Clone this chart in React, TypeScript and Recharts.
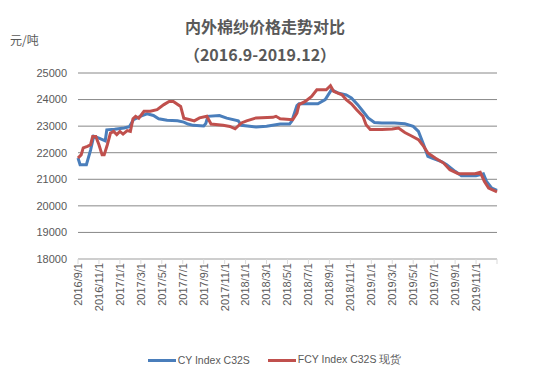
import React from 'react';
import { LineChart, Line, XAxis, YAxis, CartesianGrid } from 'recharts';

// x = months since 2016/9/1
const cyMonth = [0, 0.2, 0.8, 1.2, 1.5, 2.0, 2.6, 2.75, 3.5, 4.4, 4.9, 5.3, 6.0, 6.6, 7.2, 7.7, 8.5, 9.5, 10.1, 10.5, 11.0, 12.0, 12.2, 12.4, 13.5, 14.2, 15.3, 15.6, 17, 18, 19.3, 20.2, 20.4, 20.9, 21.1, 22.9, 23.6, 24.1, 24.2, 24.8, 25.6, 26.1, 26.7, 27.2, 27.7, 28.3, 29, 30.2, 31.2, 32, 32.5, 33, 33.4, 33.8, 34.7, 35.2, 36, 36.6, 38, 38.7, 39, 39.5, 40];
const cyValue = [21800, 21550, 21550, 22100, 22620, 22550, 22450, 22860, 22880, 22930, 22980, 23240, 23380, 23460, 23400, 23280, 23220, 23200, 23150, 23080, 23030, 23010, 23100, 23370, 23400, 23300, 23200, 23030, 22970, 23000, 23080, 23080, 23180, 23770, 23840, 23840, 24000, 24310, 24370, 24250, 24180, 24060, 23810, 23560, 23310, 23140, 23120, 23120, 23090, 22990, 22800, 22300, 21860, 21800, 21670, 21550, 21300, 21130, 21130, 21210, 20920, 20670, 20580];

const fcyMonth = [0, 0.3, 0.5, 0.9, 1.2, 1.4, 1.7, 2.0, 2.3, 2.5, 2.8, 3.1, 3.4, 3.7, 4.0, 4.3, 4.7, 5.0, 5.25, 5.5, 5.8, 6.3, 6.9, 7.55, 8.2, 8.7, 9.1, 9.8, 10.1, 10.7, 11.1, 11.6, 12.3, 12.7, 13.85, 14.5, 15, 15.6, 16.1, 17, 18.6, 18.9, 19.3, 20.5, 20.9, 21.1, 21.7, 22.3, 22.8, 23.7, 24.1, 24.4, 25.2, 25.6, 26.1, 26.6, 27.2, 27.5, 27.9, 29, 30, 30.6, 31.2, 31.8, 32.5, 33, 33.4, 34.1, 34.9, 35.5, 36.3, 37.9, 38.4, 38.8, 39.2, 40];
const fcyValue = [21800, 21920, 22180, 22240, 22300, 22610, 22610, 22300, 21920, 21920, 22300, 22740, 22800, 22680, 22800, 22700, 22830, 22800, 23280, 23370, 23300, 23560, 23560, 23620, 23810, 23930, 23930, 23740, 23300, 23240, 23200, 23310, 23370, 23080, 23030, 22990, 22900, 23120, 23200, 23310, 23330, 23370, 23280, 23240, 23490, 23810, 23930, 24120, 24370, 24370, 24520, 24310, 24180, 24000, 23840, 23620, 23370, 23050, 22870, 22870, 22890, 22930, 22760, 22640, 22490, 22240, 21990, 21800, 21610, 21360, 21210, 21210, 21260, 20920, 20670, 20530];

const xLabels = ['2016/9/1', '2016/11/1', '2017/1/1', '2017/3/1', '2017/5/1', '2017/7/1', '2017/9/1', '2017/11/1', '2018/1/1', '2018/3/1', '2018/5/1', '2018/7/1', '2018/9/1', '2018/11/1', '2019/1/1', '2019/3/1', '2019/5/1', '2019/7/1', '2019/9/1', '2019/11/1'];
const yTicks = [18000, 19000, 20000, 21000, 22000, 23000, 24000, 25000];

const series = [
  { name: 'CY Index C32S', color: '#4a7ebb', months: cyMonth, values: cyValue },
  { name: 'FCY Index C32S 现货', color: '#c0504d', months: fcyMonth, values: fcyValue },
];

const xTicks = [...xLabels.map((_, i) => i * 2), xLabels.length * 2];
const FONT = '"Liberation Sans", Arial, sans-serif';
const GREY = '#595959';

const XTick = (props: any) => {
  const { x, y, payload } = props;
  const label = xLabels[payload.value / 2] || '';
  return (
    <g transform={`translate(${x},${y - 1})`}>
      <text transform="rotate(-90)" textAnchor="end" dy="0.35em" fontSize={11} fill={GREY} fontFamily={FONT}>
        {label}
      </text>
    </g>
  );
};

export default function App() {
  return (
    <div style={{ position: 'absolute', left: 0, top: 0, width: 545, height: 374, background: '#fff' }}>
      <div style={{ position: 'absolute', left: 0, width: 530, top: 15, textAlign: 'center', fontFamily: '"Noto Sans CJK SC", sans-serif', fontWeight: 'bold', fontSize: 16, color: GREY, lineHeight: '22px' }}>
        内外棉纱价格走势对比
      </div>
      <div style={{ position: 'absolute', left: 0, width: 520, top: 43, textAlign: 'center', fontFamily: '"Noto Sans CJK SC", sans-serif', fontWeight: 'bold', fontSize: 16, color: GREY, lineHeight: '22px' }}>
        （2016.9-2019.12）
      </div>
      <div style={{ position: 'absolute', left: 10, top: 31, fontFamily: '"Noto Sans CJK SC", sans-serif', fontSize: 12, color: GREY }}>
        元/吨
      </div>
      <LineChart width={545} height={374} margin={{ top: 73, right: 48, bottom: 0, left: 0 }}>
        <CartesianGrid vertical={false} stroke="#888" strokeWidth={1} />
        <XAxis
          type="number"
          dataKey="m"
          domain={[0, 40]}
          ticks={xTicks}
          interval={0}
          height={115}
          tick={<XTick />}
          tickSize={5}
          tickMargin={0}
          stroke="#d9d9d9"
          allowDuplicatedCategory={false}
        />
        <YAxis
          domain={[18000, 25000]}
          ticks={yTicks}
          width={78}
          axisLine={false}
          tickLine={false}
          tickSize={0}
          tickMargin={11}
          tick={{ fontSize: 11, fill: GREY, fontFamily: FONT }}
        />
        {series.map((s) => (
          <Line
            key={s.name}
            data={s.months.map((m, i) => ({ m, v: s.values[i] }))}
            dataKey="v"
            name={s.name}
            stroke={s.color}
            strokeWidth={3}
            dot={false}
            isAnimationActive={false}
          />
        ))}
      </LineChart>
      <div style={{ position: 'absolute', left: 0, width: 545, top: 353, display: 'flex', justifyContent: 'center', gap: 18, fontFamily: FONT, fontSize: 10.5, color: GREY, paddingLeft: 4, boxSizing: 'border-box' }}>
        {series.map((s) => (
          <div key={s.name} style={{ display: 'flex', alignItems: 'center' }}>
            <span style={{ display: 'inline-block', width: 28, height: 3, background: s.color, marginRight: 2 }} />
            <span>{s.name}</span>
          </div>
        ))}
      </div>
    </div>
  );
}
